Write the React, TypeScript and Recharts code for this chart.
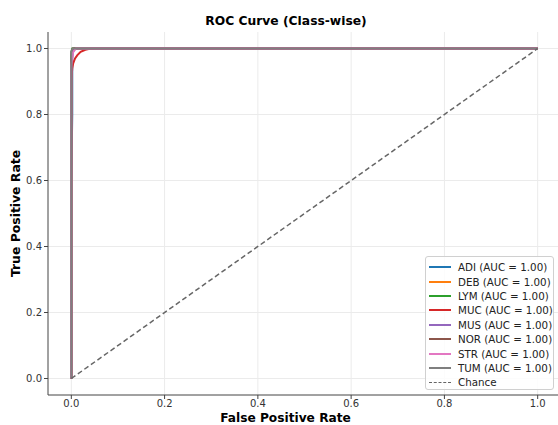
import { LineChart, Line, XAxis, YAxis, CartesianGrid } from "recharts";

const classes = ["ADI", "DEB", "LYM", "MUC", "MUS", "NOR", "STR", "TUM"];
const aucs = ["1.00", "1.00", "1.00", "1.00", "1.00", "1.00", "1.00", "1.00"];
const colors = ["#1f77b4", "#ff7f0e", "#2ca02c", "#d62728", "#9467bd", "#8c564b", "#e377c2", "#7f7f7f"];
const ticks = [0, 0.2, 0.4, 0.6, 0.8, 1.0];

// ROC points per class, [fpr, tpr]
const adi = [[0, 0], [0, 0.6], [0.002, 0.8], [0.002, 0.99], [0.006, 1], [1, 1]];
const deb = [[0, 0], [0, 0.97], [0.003, 0.995], [0.006, 1], [1, 1]];
const lym = [[0, 0], [0, 0.99], [0.002, 1], [1, 1]];
const muc = [[0, 0], [0, 0.9], [0.002, 0.94], [0.004, 0.955], [0.008, 0.97], [0.013, 0.98], [0.02, 0.99], [0.03, 0.996], [0.042, 1], [1, 1]];
const mus = [[0, 0], [0, 0.96], [0.004, 0.99], [0.008, 1], [1, 1]];
const nor = [[0, 0], [0, 0.98], [0.003, 1], [1, 1]];
const str = [[0, 0], [0, 0.95], [0.004, 0.99], [0.01, 1], [1, 1]];
const tum = [[0, 0], [0, 0.99], [0.003, 1], [1, 1]];
const chance = [[0, 0], [1, 1]];

const curves = [adi, deb, lym, muc, mus, nor, str, tum];
const toPts = (a: number[][]) => a.map(([x, y]) => ({ x, y }));

const FONT = "'DejaVu Sans', sans-serif";

export default function App() {
  return (
    <div style={{ position: "absolute", left: 0, top: 0, width: 558, height: 425, overflow: "hidden", background: "#fff", fontFamily: FONT }}>
      <div style={{ position: "absolute", left: 0, width: 572, top: 14, textAlign: "center", fontWeight: "bold", fontSize: 12.3, color: "#000" }}>
        ROC Curve (Class-wise)
      </div>
      <LineChart width={580} height={425} margin={{ top: 32, right: 19, bottom: 0, left: 0 }}>
        <CartesianGrid stroke="#ebebeb" horizontalValues={ticks} verticalValues={ticks} />
        <XAxis type="number" dataKey="x" domain={[-0.05, 1.05]} ticks={ticks} allowDataOverflow
          tickFormatter={(v: number) => v.toFixed(1)} height={30} tickMargin={1}
          stroke="#444" tick={{ fontSize: 10, fill: "#333", fontFamily: FONT }} tickSize={4}
          label={{ value: "False Positive Rate", position: "center", dx: -19, dy: 7.5, style: { fontWeight: "bold", fontSize: 12.2, fill: "#000", fontFamily: FONT } }} />
        <XAxis xAxisId="top" orientation="top" type="number" domain={[-0.05, 1.05]} height={0} tick={false} tickLine={false} stroke="#444" />
        <YAxis type="number" dataKey="y" domain={[-0.05, 1.05]} ticks={ticks} allowDataOverflow
          tickFormatter={(v: number) => v.toFixed(1)} width={48}
          stroke="#444" tick={{ fontSize: 10, fill: "#333", fontFamily: FONT }} tickSize={4}
          label={{ value: "True Positive Rate", angle: -90, position: "center", dx: -8, style: { fontWeight: "bold", fontSize: 12.4, fill: "#000", fontFamily: FONT } }} />
        {curves.map((c, i) => (
          <Line key={classes[i]} data={toPts(c)} dataKey="y" type="linear" stroke={colors[i]} strokeWidth={2}
            dot={false} isAnimationActive={false} />
        ))}
        <Line data={toPts(chance)} dataKey="y" type="linear" stroke="#666" strokeWidth={1.5} strokeDasharray="5 3"
          dot={false} isAnimationActive={false} />
      </LineChart>
      <div style={{ position: "absolute", left: 425, top: 256, width: 129, height: 134, border: "1px solid #d0d0d0", borderRadius: 3, background: "rgba(255,255,255,0.85)", boxSizing: "border-box", paddingTop: 3 }}>
        {classes.map((c, i) => (
          <div key={c} style={{ display: "flex", alignItems: "center", height: 14.4 }}>
            <div style={{ marginLeft: 3, width: 22, height: 2, background: colors[i] }} />
            <span style={{ marginLeft: 7, fontSize: 10.3, color: "#222", whiteSpace: "nowrap" }}>{c} (AUC = {aucs[i]})</span>
          </div>
        ))}
        <div style={{ display: "flex", alignItems: "center", height: 14.4 }}>
          <div style={{ marginLeft: 3, width: 22, borderTop: "1.5px dashed #666" }} />
          <span style={{ marginLeft: 7, fontSize: 10.3, color: "#222" }}>Chance</span>
        </div>
      </div>
    </div>
  );
}
